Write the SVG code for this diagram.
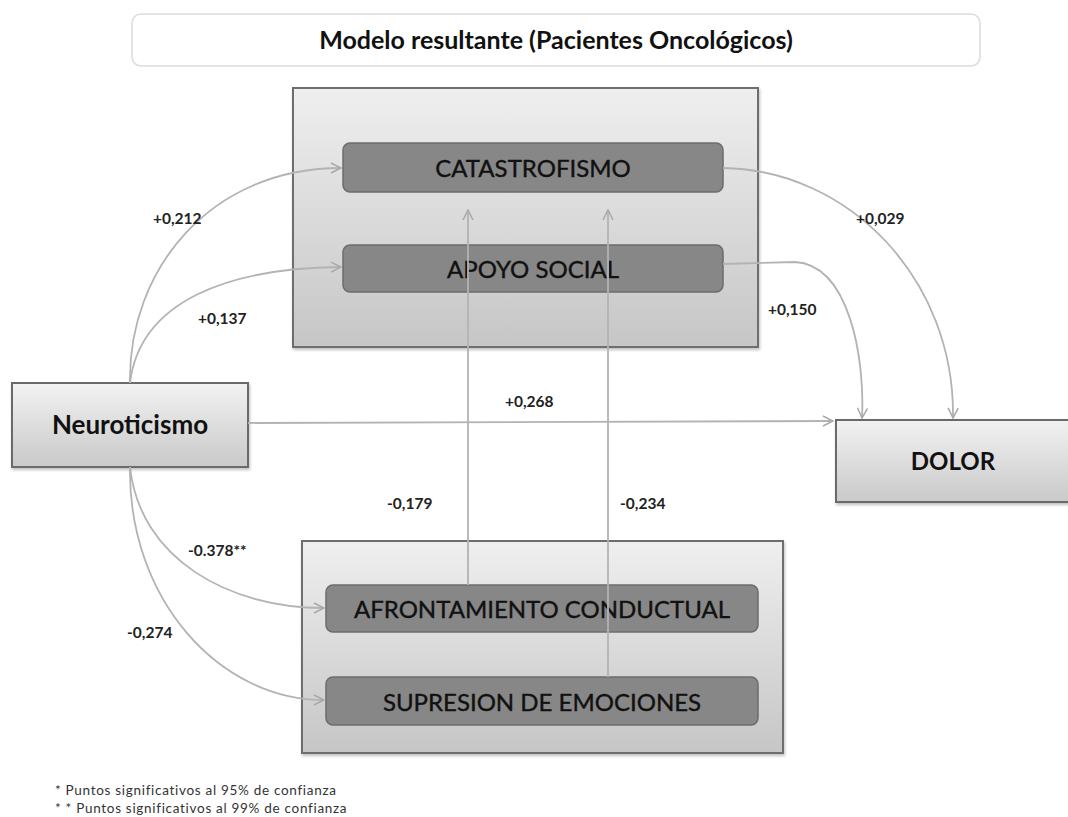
<svg xmlns="http://www.w3.org/2000/svg" width="1068" height="817" viewBox="0 0 1068 817">
<defs>
<linearGradient id="gBox" x1="0" y1="0" x2="0" y2="1">
<stop offset="0" stop-color="#f2f2f2"/><stop offset="1" stop-color="#c9c9c9"/>
</linearGradient>
<linearGradient id="gBig" x1="0" y1="0" x2="0" y2="1">
<stop offset="0" stop-color="#efefef"/><stop offset="1" stop-color="#c6c6c6"/>
</linearGradient>
<marker id="arr" viewBox="0 0 12 12" refX="11" refY="6" markerWidth="12" markerHeight="12" markerUnits="userSpaceOnUse" orient="auto">
<path d="M1,1 L11,6 L1,11" fill="none" stroke="#a8a8a8" stroke-width="1.5"/>
</marker>
<filter id="sh" x="-5%" y="-5%" width="110%" height="115%">
<feDropShadow dx="1" dy="2" stdDeviation="1.5" flood-color="#000" flood-opacity="0.25"/>
</filter>
</defs>
<style>
.big{fill:url(#gBig);stroke:#6e6e6e;stroke-width:2}
.light{fill:url(#gBox);stroke:#6a6a6a;stroke-width:2}
.dark{fill:#878787;stroke:#6c6c6c;stroke-width:1.5}
.t{font-family:Lato,"Open Sans","Liberation Sans",sans-serif;fill:#111;text-anchor:middle}
.tb{font-size:24px;stroke:#111;stroke-width:0.4}
.lbl{font-family:Lato,"Open Sans","Liberation Sans",sans-serif;font-size:15.5px;font-weight:bold;fill:#222}
.c{fill:none;stroke:#b3b3b3;stroke-width:1.8}
.foot{font-family:Lato,"Open Sans","Liberation Sans",sans-serif;font-size:13.5px;fill:#333;letter-spacing:0.7px}
</style>
<rect width="1068" height="817" fill="#fff"/>
<g id="title">
<rect x="132" y="14" width="848" height="52" rx="9" fill="#fff" stroke="#dcdcdc" stroke-width="1.5"/>
<text class="t" x="556" y="49" font-size="25" font-weight="bold">Modelo resultante (Pacientes Oncológicos)</text>
</g>
<g id="groupTop">
<rect class="big" x="293" y="88" width="465" height="259" filter="url(#sh)"/>
</g>
<g id="groupBottom">
<rect class="big" x="302" y="541" width="481" height="212" filter="url(#sh)"/>
</g>
<g id="catastrofismo">
<rect class="dark" x="343" y="143" width="380" height="49" rx="7"/>
<text class="t tb" x="533" y="177">CATASTROFISMO</text>
</g>
<g id="apoyo">
<rect class="dark" x="343" y="245" width="380" height="47" rx="7"/>
<text class="t tb" x="533" y="278">APOYO SOCIAL</text>
</g>
<g id="afrontamiento">
<rect class="dark" x="326" y="585" width="432" height="47" rx="7"/>
<text class="t tb" x="542" y="618">AFRONTAMIENTO CONDUCTUAL</text>
</g>
<g id="supresion">
<rect class="dark" x="326" y="677" width="432" height="48" rx="7"/>
<text class="t tb" x="542" y="711">SUPRESION DE EMOCIONES</text>
</g>
<g id="neuroticismo">
<rect class="light" x="12" y="383" width="236" height="84" filter="url(#sh)"/>
<text class="t" x="130" y="434" font-size="26" font-weight="bold">Neuroticismo</text>
</g>
<g id="dolor">
<rect class="light" x="836" y="420" width="240" height="82" filter="url(#sh)"/>
<text class="t" x="953" y="470" font-size="24" font-weight="bold">DOLOR</text>
</g>
<g id="connectors">
<path class="c" d="M130,383 C128,270 210,168 341,168" marker-end="url(#arr)"/>
<path class="c" d="M130,383 C140,300 230,268 341,267" marker-end="url(#arr)"/>
<path class="c" d="M248,423 L833,421" marker-end="url(#arr)"/>
<path class="c" d="M723,168 C850,170 955,280 953,418" marker-end="url(#arr)"/>
<path class="c" d="M723,264 L795,262 C850,265 865,360 862,418" marker-end="url(#arr)"/>
<path class="c" d="M130,467 C140,560 230,608 324,608" marker-end="url(#arr)"/>
<path class="c" d="M130,467 C128,600 220,700 324,700" marker-end="url(#arr)"/>
<path class="c" d="M468,585 L468,210" marker-end="url(#arr)"/>
<path class="c" d="M608,677 L608,210" marker-end="url(#arr)"/>
</g>
<g id="labels">
<text class="lbl" x="153" y="224">+0,212</text>
<text class="lbl" x="198" y="324">+0,137</text>
<text class="lbl" x="505" y="407">+0,268</text>
<text class="lbl" x="856" y="224">+0,029</text>
<text class="lbl" x="768" y="315">+0,150</text>
<text class="lbl" x="387" y="509">-0,179</text>
<text class="lbl" x="620" y="509">-0,234</text>
<text class="lbl" x="188" y="556">-0.378**</text>
<text class="lbl" x="127" y="638">-0,274</text>
</g>
<g id="footnotes">
<text class="foot" x="55" y="795">* Puntos significativos al 95% de confianza</text>
<text class="foot" x="55" y="813">* * Puntos significativos al 99% de confianza</text>
</g>
</svg>
